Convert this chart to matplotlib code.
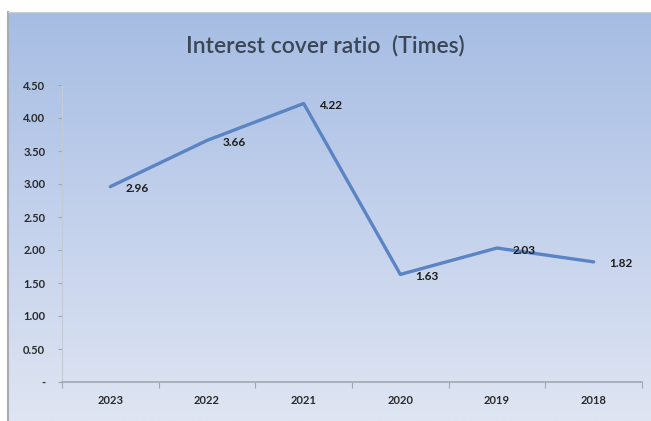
import numpy as np
import matplotlib
matplotlib.use('Agg')
import matplotlib.pyplot as plt
from matplotlib.colors import LinearSegmentedColormap

# dados
anos = ['2023', '2022', '2021', '2020', '2019', '2018']
cobertura = [2.96, 3.66, 4.22, 1.63, 2.03, 1.82]
y_ticks = [0, 0.5, 1.0, 1.5, 2.0, 2.5, 3.0, 3.5, 4.0, 4.5]
y_labels = ['-', '0.50', '1.00', '1.50', '2.00', '2.50', '3.00', '3.50', '4.00', '4.50']

plt.rcParams['font.family'] = ['Lato', 'DejaVu Sans']

fig = plt.figure(figsize=(6.51, 4.21), dpi=100)
fig.patch.set_facecolor('white')

# fundo em degradê
ax_bg = fig.add_axes([8/651, 0, 1 - 8/651, 409/421])
grad = LinearSegmentedColormap.from_list('g', ['#a6bde3', '#c3d1ec', '#dfe5f2'])
ax_bg.imshow(np.linspace(0, 1, 256).reshape(-1, 1), aspect='auto', cmap=grad,
             extent=[0, 1, 0, 1], origin='upper')
ax_bg.set_xlim(0, 1)
ax_bg.set_ylim(0, 1)
ax_bg.set_xticks([])
ax_bg.set_yticks([])
for lado in ['right', 'bottom']:
    ax_bg.spines[lado].set_visible(False)
ax_bg.spines['left'].set_color('#a8acb2')
ax_bg.spines['top'].set_color('#c9ccd0')
ax_bg.spines['left'].set_linewidth(1.5)

# gráfico
ax = fig.add_axes([62/651, 39/421, 580/651, 297/421])
ax.patch.set_alpha(0)
x = np.arange(len(anos))
ax.plot(x, cobertura, color='#5b84c4', linewidth=2.4, solid_capstyle='round')

for xi, v in zip(x, cobertura):
    ax.annotate(f'{v:.2f}', (xi, v), xytext=(11, -1.5), textcoords='offset points',
                ha='left', va='center', fontsize=8.5, fontweight='bold', color='#1c1c1c')

ax.set_xlim(-0.5, len(anos) - 0.5)
ax.set_ylim(0, 4.5)
ax.set_yticks(y_ticks)
ax.set_yticklabels(y_labels)
ax.set_xticks(np.arange(-0.5, len(anos), 1.0))
ax.set_xticklabels([])
ax.set_xticks(x, minor=True)
ax.set_xticklabels(anos, minor=True)
ax.tick_params(axis='x', which='minor', length=0, pad=9, labelsize=8, labelcolor='#2a2a2a')
ax.tick_params(axis='x', which='major', length=4, color='#a0a8b4')
ax.tick_params(axis='y', length=3, color='#a0a8b4', labelsize=8, labelcolor='#2a2a2a', pad=9)
for lbl in ax.get_xticklabels(minor=True) + ax.get_yticklabels():
    lbl.set_fontweight('bold')

for lado in ['top', 'right']:
    ax.spines[lado].set_visible(False)
ax.spines['left'].set_color('#c4cbd6')
ax.spines['bottom'].set_color('#a0a8b4')
ax.spines['bottom'].set_linewidth(1.2)

fig.text(0.5, 1 - 46/421, 'Interest cover ratio  (Times)', ha='center', va='center',
         fontsize=16.5, fontweight='semibold', color='#3b4656')

fig.savefig('out.png', dpi=100)
